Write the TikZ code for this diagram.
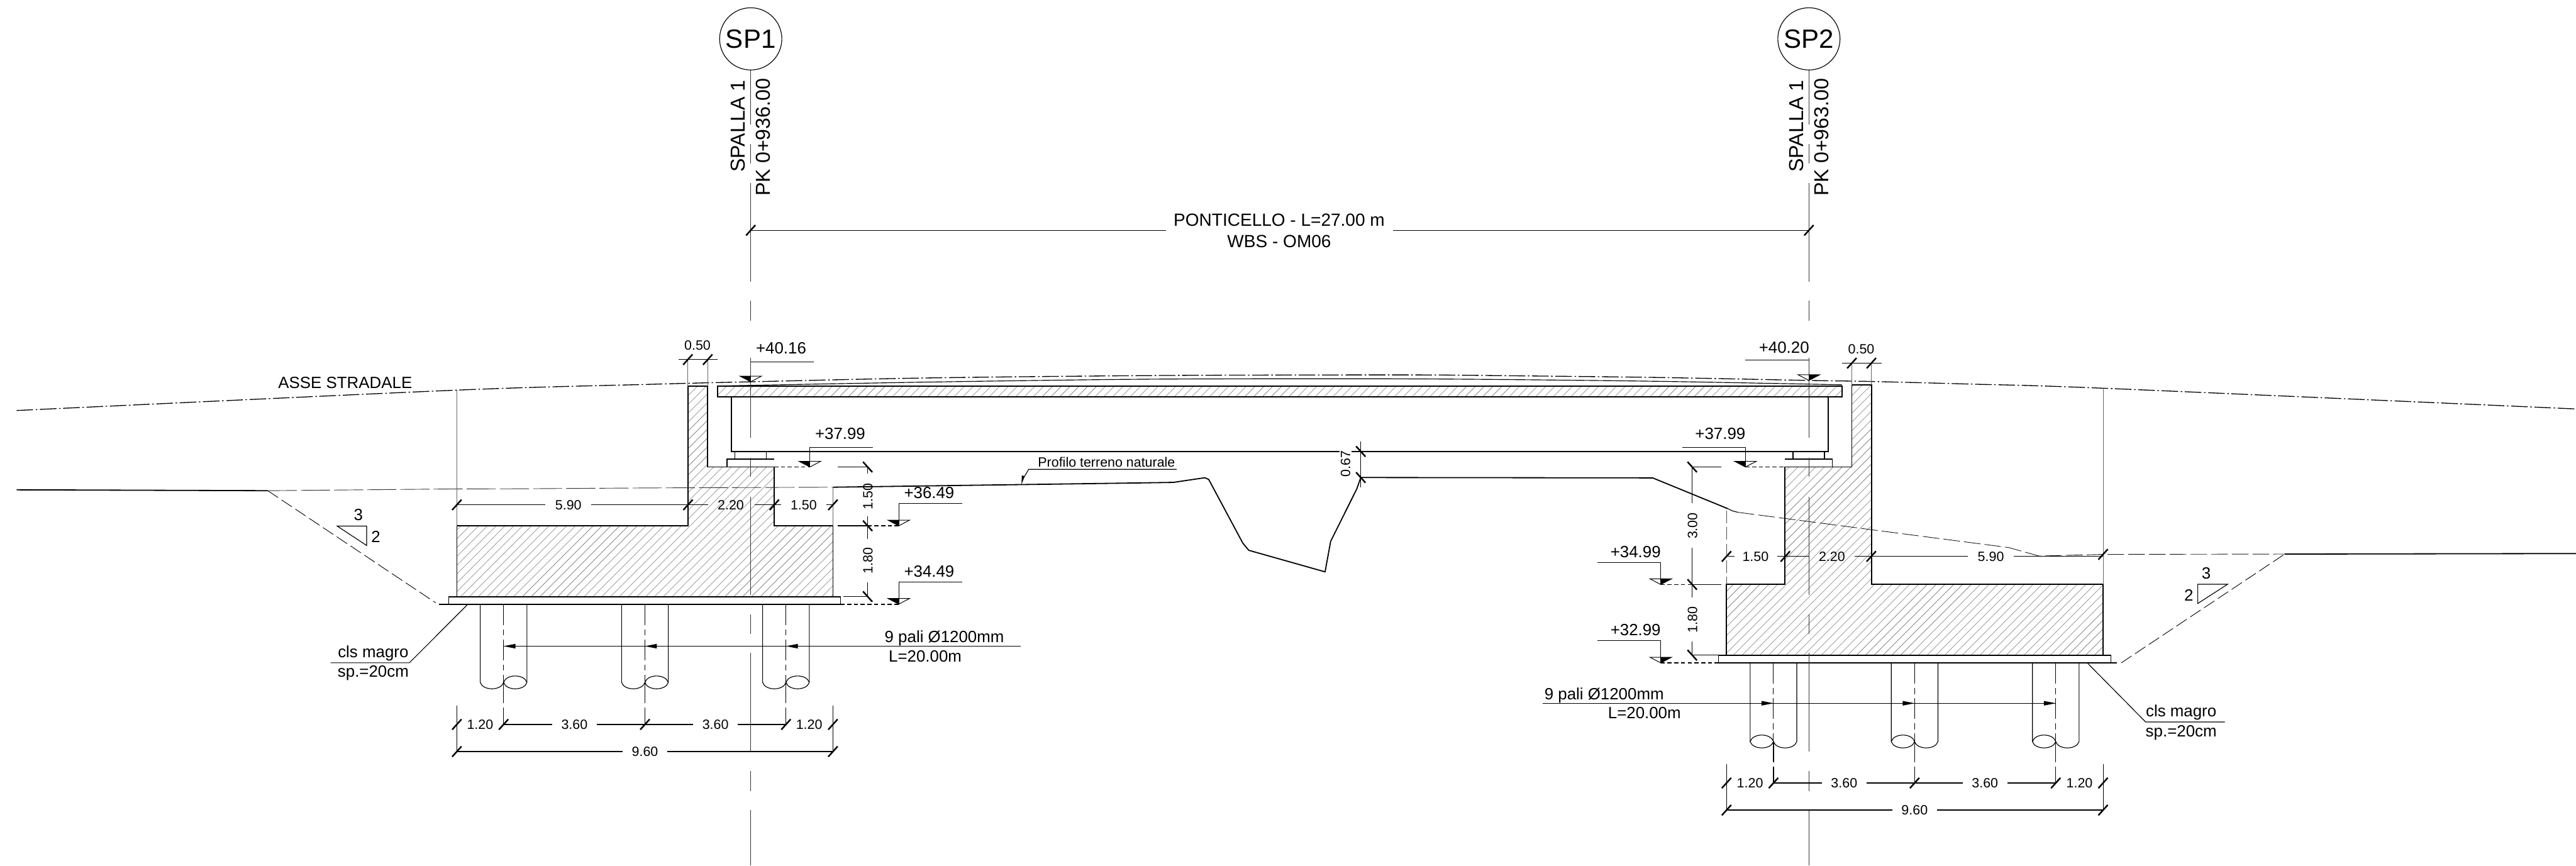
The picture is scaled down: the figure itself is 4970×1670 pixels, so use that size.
\documentclass[tikz,border=0pt]{standalone}
\usepackage{fontspec}
\setmainfont{Liberation Sans}
\newcommand{\fs}[1]{\fontsize{#1}{#1}\selectfont}
\tikzset{
  x=0.5pt,y=-0.5pt,
  every node/.style={inner sep=0pt,outer sep=0pt,text=black},
  thinl/.style={line width=0.7pt,black},
  greyl/.style={line width=0.6pt,black!60},
  dimline/.style={line width=0.8pt,black},
  main/.style={line width=1.1pt,black,line join=miter},
  thick deck/.style={line width=1.3pt,black},
  ground/.style={line width=1.1pt,black,line join=round},
  hatchl/.style={line width=0.35pt,black!55},
  tickm/.style={line width=1.5pt,black},
  axisl/.style={line width=0.7pt,black!80},
  roadl/.style={line width=0.8pt,black,dash pattern=on 16pt off 2.5pt on 1.5pt off 2.5pt},
  dashl/.style={line width=0.55pt,black,dash pattern=on 12pt off 4pt},
  longd/.style={line width=0.55pt,black!80,dash pattern=on 28pt off 4pt},
  midd/.style={line width=0.55pt,black!90,dash pattern=on 16pt off 4pt},
  shortd/.style={line width=0.8pt,black,dash pattern=on 4pt off 2.5pt},
  pilec/.style={line width=0.6pt,black,dash pattern=on 20pt off 4pt on 6pt off 4pt},
  dimt/.style={font=\fs{13},anchor=base},
  elevt/.style={font=\fs{15.7},anchor=base},
  notet/.style={font=\fs{15.7},anchor=base},
  bigt/.style={font=\fs{19.5},anchor=base west,rotate=90},
  titlet/.style={font=\fs{17},anchor=base},
  spc/.style={circle,draw,line width=0.7pt,minimum size=60pt,font=\fs{25.5}},
}
\newcommand{\tk}[2]{\draw[tickm] ({#1-9},{#2+10}) -- ({#1+9},{#2-10});}
\newcommand{\tkv}[2]{\draw[tickm] ({#1-9},{#2-10}) -- ({#1+9},{#2+10});}
\newcommand{\elev}[3]{%
  \fill[black] (#1,#2) -- (#1,{#2-11}) -- ({#1+#3*21},{#2-11}) -- cycle;
  \draw[line width=0.6pt,black] ({#1-21},{#2-11}) -- ({#1+21},{#2-11}) -- (#1,#2) -- cycle;}
\newcommand{\pileL}[2]{% left half open, right half lens; #1 centre, #2 top
  \draw[thinl] ({#1-45},#2) -- ({#1-45},1316.7) .. controls ({#1-40},1333) and ({#1-5},1333) .. (#1,1316.7)
     .. controls ({#1+5},1333) and ({#1+40},1333) .. ({#1+45},1316.7) -- ({#1+45},#2);
  \draw[thinl] (#1,1316.7) .. controls ({#1+5},1300) and ({#1+40},1300) .. ({#1+45},1316.7);
  \draw[pilec] (#1,#2) -- (#1,1316.7);
  \draw[thinl] (#1,1316.7) -- (#1,1357);
  \draw[thinl] (#1,1365) -- (#1,1397.7);}
\newcommand{\pileR}[2]{% left half lens, right half open
  \draw[thinl] ({#1-45},#2) -- ({#1-45},1430.8) .. controls ({#1-40},1447) and ({#1-5},1447) .. (#1,1430.8)
     .. controls ({#1+5},1447) and ({#1+40},1447) .. ({#1+45},1430.8) -- ({#1+45},#2);
  \draw[thinl] ({#1-45},1430.8) .. controls ({#1-40},1414) and ({#1-5},1414) .. (#1,1430.8);
  \draw[pilec] (#1,#2) -- (#1,1430.8);
  \draw[thinl] (#1,1430.8) -- (#1,1471);
  \draw[thinl] (#1,1479) -- (#1,1510.7);}
\newcommand{\headL}[2]{\fill[black] (#1,#2) -- ({#1+23},{#2-4.5}) -- ({#1+23},{#2+4.5}) -- cycle;}
\newcommand{\headR}[2]{\fill[black] (#1,#2) -- ({#1-23},{#2-4.5}) -- ({#1-23},{#2+4.5}) -- cycle;}
\begin{document}
\begin{tikzpicture}
\useasboundingbox (0,0) rectangle (4970,1670);
% ----- hatching
\begin{scope}
 \clip (1327,745.4) -- (1365.4,745.4) -- (1365.4,901) -- (1493.6,901) -- (1493.6,1014.5) -- (1607,1014.5) -- (1607,1151) -- (881.4,1151) -- (881.4,1014.5) -- (1327,1014.5) -- cycle;
 \foreach \h in {281,298,...,1610} \draw[hatchl] (\h,1300) -- ({\h+600},700);
\end{scope}
\begin{scope}
 \clip (3572.8,742.7) -- (3610.5,742.7) -- (3610.5,1127.7) -- (4057.5,1127.7) -- (4057.5,1264) -- (3331,1264) -- (3331,1127.7) -- (3444,1127.7) -- (3444,901) -- (3572.8,901) -- cycle;
 \foreach \h in {2730,2747,...,4060} \draw[hatchl] (\h,1300) -- ({\h+600},700);
\end{scope}
\begin{scope}
 \clip (1384.6,745.4) rectangle (3554.3,765.3);
 \foreach \h in {1360,1377,...,3560} \draw[hatchl] (\h,770) -- ({\h+30},740);
\end{scope}
% ----- road axis
\draw[roadl] plot[smooth] coordinates {(32,792) (881,752.7) (1250,741.6) (1448,736.6) (1800,729) (2250,724.4) (2710,723.3) (2900,724.8) (3200,728.3) (3490,734) (3610,736) (3800,741) (4057,749) (4970,789)};
\node[notet] (asse) at (666,748.9) {ASSE STRADALE};
% ----- thin road surface line
\draw[thinl] plot[smooth] coordinates {(1384.6,744.7) (1800,737) (2200,731.7) (2582.7,730.7) (2837.8,731.7) (3200,735.7) (3554,742.4)};
% ----- deck
\draw[thick deck] (1384.6,745.4) rectangle (3554.3,765.3);
% ----- beam
\draw[main] (1410.7,765.3) -- (1410.7,871) -- (2584.6,871);
\draw[main] (2608,871) -- (3527.6,871) -- (3527.6,765.3);
% ----- bearings
\draw[thinl] (1417.7,871) -- (1417.7,885.9) (1478.3,871) -- (1478.3,885.9);
\draw[main] (1403,901) -- (1403,885.9) -- (1493.6,885.9);
\draw[thinl] (3459.3,871) -- (3459.3,885.9) (3520,871) -- (3520,885.9);
\draw[main] (3444,885.9) -- (3535.2,885.9) -- (3535.2,901);
% ----- left abutment
\draw[main] (1327,745.4) -- (1365.4,745.4) -- (1365.4,901) -- (1493.6,901) -- (1493.6,1014.5) -- (1607,1014.5) -- (1607,1151) -- (881.4,1151) -- (881.4,1014.5) -- (1327,1014.5) -- cycle;
\draw[thinl] (866,1151) rectangle (1621.4,1166);
\draw[thick deck] (866,1151) -- (1621.4,1151);
\draw[main] (846.5,1166) -- (1621.4,1166);
% ----- right abutment
\draw[main] (3572.8,742.7) -- (3610.5,742.7) -- (3610.5,1127.7) -- (4057.5,1127.7) -- (4057.5,1264) -- (3331,1264) -- (3331,1127.7) -- (3444,1127.7) -- (3444,901) -- (3572.8,901) -- cycle;
\draw[thinl] (3315.7,1264) rectangle (4072.4,1279);
\draw[thick deck] (3315.7,1264) -- (4072.4,1264);
\draw[main] (3315.7,1279) -- (4083.6,1279);
% ----- ground
\draw[ground] (32,945) -- (516.6,946.7);
\draw[longd] (516.6,946.7) -- (881.4,943.3) -- (1000,943) -- (1250,941.4) -- (1607,940);
\draw[dashl] (516.6,946.7) -- (840.6,1163);
\draw[ground] plot coordinates {(1607,940) (2200,931.7) (2263.8,930.7) (2324.4,921.7) (2332,925) (2397.7,1047.7) (2409.2,1061.7) (2556.5,1103.3) (2567.3,1044.3) (2617.7,943.3) (2625.4,921.3) (3188.5,922) (3333.7,981.5)};
\draw[thinl] (3333.7,981.5) -- (3343,985.8) -- (3352.8,988.4);
\draw[midd] (3352.8,988.4) -- (3875.8,1056.5) -- (3934,1072.8) -- (4057,1069.6) -- (4408,1069);
\draw[ground] (4408,1069) -- (4970,1068);
\draw[dashl] (4092.5,1279) -- (4408,1069);
\draw[dashl,black!70] (3331,985) -- (3331,1127.7);
% ----- slope triangles
\draw[thinl] (650.5,1014.9) -- (707.3,1014.9) -- (707.3,1052.4) -- cycle;
\node[notet] (sl3) at (691.3,1004.5) {3};
\node[notet] (sl2) at (725,1046.6) {2};
\draw[thinl] (4240.3,1127.2) -- (4297.8,1127.2) -- (4240.3,1164.3) -- cycle;
\node[notet] (sr3) at (4256.7,1116.5) {3};
\node[notet] (sr2) at (4223,1158.9) {2};
% ----- axes
\node[spc] (sp1) at (1448.4,75) {SP1};
\node[spc] (sp2) at (3490,75) {SP2};
\draw[axisl] (sp1.south) -- (1448.4,240);
\draw[axisl] (sp2.south) -- (3490,240);
\foreach \a/\b in {278/316,353/543,580/619,690/845,883/920,959/1148,1185/1223,1260/1450,1487/1526,1563/1670}
  {\draw[axisl] (1448.4,\a) -- (1448.4,\b); \draw[axisl] (3490,\a) -- (3490,\b);}
\node[bigt] (spa1) at (1437.8,332) {SPALLA 1};
\node[bigt] (pk1) at (1486.2,378) {PK 0+936.00};
\node[bigt] (spa2) at (3479.4,332) {SPALLA 1};
\node[bigt] (pk2) at (3527.8,378) {PK 0+963.00};
% ----- span dimension
\draw[dimline] (1448.4,444.3) -- (2250,444.3) (2687.7,444.3) -- (3490,444.3);
\tk{1448.4}{444.3} \tk{3490}{444.3}
\node[titlet] (pont) at (2468,436) {PONTICELLO - L=27.00 m};
\node[titlet] (wbs) at (2468,477.3) {WBS - OM06};
% ----- extension lines
\draw[greyl] (881.4,752.7) -- (881.4,1014.5) (4057.5,749) -- (4057.5,1127.7) (1607,940) -- (1607,1014.5);
\draw[greyl] (1327,693.8) -- (1327,745.4) (1365.4,693.8) -- (1365.4,745.4);
\draw[greyl] (3572.8,700.6) -- (3572.8,742.7) (3610.5,700.6) -- (3610.5,742.7);
% ----- 0.50
\draw[thinl] (1309,693.8) -- (1384.6,693.8); \tk{1327}{693.8} \tk{1365.4}{693.8}
\node[dimt] (d050l) at (1345.7,675.4) {0.50};
\draw[thinl] (3553.7,700.6) -- (3630,700.6); \tk{3572.8}{700.6} \tk{3610.5}{700.6}
\node[dimt] (d050r) at (3591,682.3) {0.50};
% ----- left horizontal dims
\draw[dimline] (881.4,974) -- (1052,974) (1140,974) -- (1327,974) -- (1366,974) (1455.6,974) -- (1493.9,974) -- (1506.6,974) (1594,974) -- (1607,974);
\tk{881.4}{974} \tk{1327.4}{974} \tk{1493.9}{974} \tk{1607}{974}
\node[dimt] (a1) at (1096.6,983.5) {5.90};
\node[dimt] (a2) at (1410,983.5) {2.20};
\node[dimt] (a3) at (1550.6,983.5) {1.50};
% ----- left vertical dims
\draw[dimline] (1616.7,901) -- (1674,901) -- (1674,914);
\draw[dimline] (1674,996) -- (1674,1040);
\draw[dimline] (1616.7,1014.5) -- (1674,1014.5);
\draw[dimline] (1674,1124) -- (1674,1151) -- (1627.5,1151);
\tkv{1674}{901} \tkv{1674}{1014.5} \tkv{1674}{1151}
\node[dimt,rotate=90] (a4) at (1683.5,957.8) {1.50};
\node[dimt,rotate=90] (a5) at (1683.5,1082) {1.80};
% ----- left elevations
\draw[thinl] (1448.4,698) -- (1569.5,698);
\elev{1448.4}{736.6}{-1}
\node[elevt] (e1) at (1507,682.3) {+40.16};
\draw[thinl] (1683.7,863) -- (1562.5,863) -- (1562.5,901);
\draw[shortd] (1493.6,901) -- (1562.5,901);
\elev{1562.5}{901}{-1}
\node[elevt] (e2) at (1621,848) {+37.99};
\draw[thinl] (1856,971.6) -- (1734,971.6) -- (1734,1014.5);
\draw[shortd] (1674,1014.5) -- (1734,1014.5);
\elev{1734}{1014.5}{-1}
\node[elevt] (e3) at (1792.7,961.7) {+36.49};
\draw[thinl] (1856,1122.8) -- (1734,1122.8) -- (1734,1165.6);
\draw[shortd] (1621.4,1166) -- (1734,1166);
\elev{1734}{1165.6}{-1}
\node[elevt] (e4) at (1792.7,1112.8) {+34.49};
% ----- profile note
\draw[thinl] (2270,905.4) -- (1984.7,905.4) -- (1973,925);
\fill[black] (1970.7,934.9) -- (1971.5,917) -- (1977,919) -- cycle;
\node[font=\fs{13},anchor=base west] (prof) at (2002.6,900.4) {Profilo terreno naturale};
% ----- 0.67
\draw[thinl] (2625.4,851.7) -- (2625.4,940);
\tkv{2625.4}{871} \tkv{2625.4}{921.3}
\node[dimt,rotate=90] (d067) at (2605,895) {0.67};
% ----- left piles
\pileL{971.6}{1166} \pileL{1244.3}{1166} \pileL{1516.4}{1166}
\draw[dimline] (971.6,1246.7) -- (1969.3,1246.7);
\headL{971.6}{1246.7} \headL{1244.3}{1246.7} \headL{1516.4}{1246.7}
\node[elevt] (p1) at (1822,1239.3) {9 pali Ø1200mm};
\node[elevt] (p2) at (1785,1276.7) {L=20.00m};
\draw[greyl,black] (881.4,1361) -- (881.4,1450) (1607,1361) -- (1607,1450);
\draw[dimline] (971.6,1397.7) -- (1065,1397.7) (1151.3,1397.7) -- (1336.7,1397.7) (1423.4,1397.7) -- (1516.4,1397.7);
\tk{881.4}{1397.7} \tk{971.6}{1397.7} \tk{1244.3}{1397.7} \tk{1516.4}{1397.7} \tk{1607}{1397.7}
\node[dimt] (b1) at (926.3,1407.2) {1.20};
\node[dimt] (b2) at (1108.3,1407.2) {3.60};
\node[dimt] (b3) at (1380.4,1407.2) {3.60};
\node[dimt] (b4) at (1561.2,1407.2) {1.20};
\draw[dimline] (881.4,1450) -- (1200.7,1450) (1286.8,1450) -- (1607,1450);
\tk{881.4}{1450} \tk{1607}{1450}
\node[dimt] (b5) at (1244.3,1459.5) {9.60};
% ----- cls left
\draw[thinl] (637.7,1278.7) -- (790,1278.7) -- (902.4,1166);
\node[notet] (c1) at (720,1268.3) {cls magro};
\node[notet] (c2) at (720,1306.7) {sp.=20cm};
% ----- right horizontal dims
\draw[dimline] (3331,1073.5) -- (3346,1073.5) (3429,1073.5) -- (3491,1073.5) (3578.4,1073.5) -- (3797,1073.5) (3885,1073.5) -- (4057.5,1073.5);
\tk{3331}{1073.5} \tk{3444.5}{1073.5} \tk{3610.3}{1073.5} \tk{4057.5}{1069.6}
\node[dimt] (f1) at (3387,1083) {1.50};
\node[dimt] (f2) at (3534.4,1083) {2.20};
\node[dimt] (f3) at (3841,1083) {5.90};
% ----- right vertical dims
\draw[dimline] (3321,901) -- (3264.8,901) -- (3264.8,971);
\draw[dimline] (3264.8,1057) -- (3264.8,1152.6);
\draw[dimline] (3321,1127.7) -- (3264.8,1127.7);
\draw[dimline] (3264.8,1238) -- (3264.8,1264) -- (3315.7,1264);
\tkv{3264.8}{901} \tkv{3264.8}{1127.7} \tkv{3264.8}{1264}
\node[dimt,rotate=90] (f4) at (3274.3,1014.5) {3.00};
\node[dimt,rotate=90] (f5) at (3274.3,1195.7) {1.80};
% ----- right elevations
\draw[thinl] (3367.5,695) -- (3490,695);
\elev{3490}{734}{1}
\node[elevt] (g1) at (3442,681) {+40.20};
\draw[thinl] (3245.7,863) -- (3367.5,863) -- (3367.5,901);
\draw[shortd] (3367.5,901) -- (3444,901);
\elev{3367.5}{901}{-1}
\node[elevt] (g2) at (3319,848) {+37.99};
\draw[thinl] (3081.8,1085.3) -- (3204.2,1085.3) -- (3204.2,1127.7);
\draw[shortd] (3204.2,1127.7) -- (3264.8,1127.7);
\elev{3204.2}{1127.7}{1}
\node[elevt] (g3) at (3155.7,1075.7) {+34.99};
\draw[thinl] (3081.8,1236.3) -- (3204.2,1236.3) -- (3204.2,1279);
\draw[shortd] (3204.2,1279) -- (3315.7,1279);
\elev{3204.2}{1279}{1}
\node[elevt] (g4) at (3155.6,1226.5) {+32.99};
% ----- right piles
\pileR{3421.6}{1279} \pileR{3693.9}{1279} \pileR{3966.2}{1279}
\draw[dimline] (2976,1356.8) -- (3966.2,1356.8);
\headR{3421.6}{1356.8} \headR{3693.9}{1356.8} \headR{3966.2}{1356.8}
\node[elevt] (q1) at (3095,1350.4) {9 pali Ø1200mm};
\node[elevt] (q2) at (3172.7,1386.7) {L=20.00m};
\draw[greyl,black] (3331,1474) -- (3331,1563) (4057.5,1474) -- (4057.5,1563);
\draw[dimline] (3421.6,1510.7) -- (3514.7,1510.7) (3600.8,1510.7) -- (3787,1510.7) (3873,1510.7) -- (3966.2,1510.7);
\tk{3331}{1510.7} \tk{3421.6}{1510.7} \tk{3693.9}{1510.7} \tk{3966.2}{1510.7} \tk{4057.5}{1510.7}
\node[dimt] (h1) at (3376.3,1520.2) {1.20};
\node[dimt] (h2) at (3558,1520.2) {3.60};
\node[dimt] (h3) at (3829.7,1520.2) {3.60};
\node[dimt] (h4) at (4012,1520.2) {1.20};
\draw[dimline] (3331,1563) -- (3650.5,1563) (3736.6,1563) -- (4057.5,1563);
\tk{3331}{1563} \tk{4057.5}{1563}
\node[dimt] (h5) at (3693.9,1572.5) {9.60};
% ----- cls right
\draw[thinl] (4027.6,1279.5) -- (4139.6,1392.9) -- (4292.5,1392.9);
\node[notet] (k1) at (4208.2,1382.5) {cls magro};
\node[notet] (k2) at (4208.2,1421) {sp.=20cm};
\end{tikzpicture}
\end{document}
